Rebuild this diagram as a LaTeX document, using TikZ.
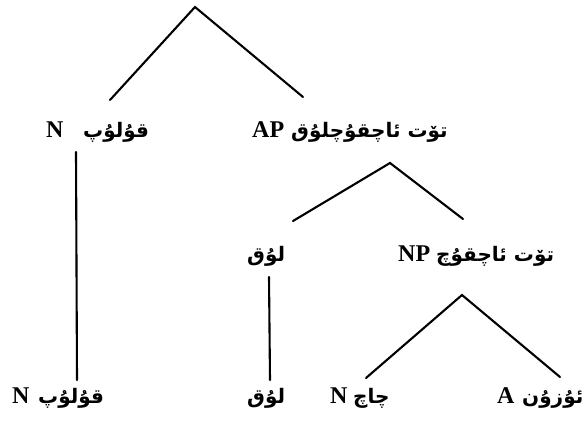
\documentclass[tikz,border=0pt]{standalone}
\usepackage{fontspec}
\setmainfont{Liberation Serif}
\newfontfamily\ugfont[Script=Arabic]{DejaVu Sans}
\TeXXeTstate=1
\begin{document}
\begin{tikzpicture}[x=1pt,y=-1pt,
  cat/.style={font=\fontsize{24}{28}\selectfont\bfseries, inner sep=0pt, anchor=base west},
  word/.style={font=\ugfont\bfseries\fontsize{20}{26}\selectfont, inner sep=0pt, anchor=base west},
  edge/.style={line width=2.1pt, line cap=round}]
\fill[white] (0,0) rectangle (588,423);
\useasboundingbox (0,0) rectangle (588,423);
% row 1
\node[cat]  (n1) at (46,137) {N};
\node[word] (w1) at (83,137) {\beginR قۇلۇپ\endR};
\node[cat]  (ap) at (252,137) {AP};
\node[word] (w2) at (291,137) {\beginR تۆت ئاچقۇچلۇق\endR};
% row 2
\node[word] (w3) at (247,261) {\beginR لۇق\endR};
\node[cat]  (np) at (398,261) {NP};
\node[word] (w4) at (436,261) {\beginR تۆت ئاچقۇچ\endR};
% row 3
\node[cat]  (n2) at (12,403) {N};
\node[word] (w5) at (38,403) {\beginR قۇلۇپ\endR};
\node[word] (w6) at (247,403) {\beginR لۇق\endR};
\node[cat]  (n3) at (330,403) {N};
\node[word] (w7) at (353,403) {\beginR چاچ\endR};
\node[cat]  (a1) at (497,403) {A};
\node[word] (w8) at (522,403) {\beginR ئۇزۇن\endR};
% branch points
\coordinate (r0) at (195,7);
\coordinate (r1) at (110,100);
\coordinate (r2) at (303,97);
\coordinate (v1t) at (76,152);
\coordinate (v1b) at (77,380);
\coordinate (s0) at (390,163);
\coordinate (s1) at (293,221);
\coordinate (s2) at (463,219);
\coordinate (v2t) at (269,277);
\coordinate (v2b) at (270,380);
\coordinate (t0) at (462,295);
\coordinate (t1) at (366,378);
\coordinate (t2) at (560,377);
\draw[edge] (r1) -- (r0) -- (r2);
\draw[edge] (v1t) -- (v1b);
\draw[edge] (s1) -- (s0) -- (s2);
\draw[edge] (v2t) -- (v2b);
\draw[edge] (t1) -- (t0) -- (t2);
\end{tikzpicture}
\end{document}
